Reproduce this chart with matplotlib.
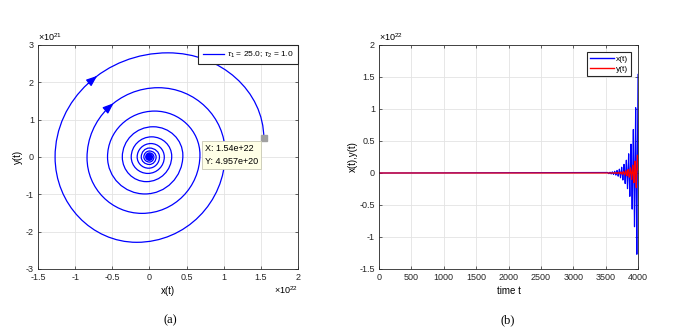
import numpy as np
import matplotlib.pyplot as plt
from matplotlib.path import Path
from matplotlib.patches import PathPatch

plt.rcParams['font.family'] = ['Liberation Sans', 'DejaVu Sans']
plt.rcParams['mathtext.fontset'] = 'custom'
plt.rcParams['mathtext.rm'] = 'Liberation Sans'
plt.rcParams['mathtext.it'] = 'Liberation Sans:italic'

# turning points of the trajectory, oldest first (left/right = x extremes, top/bottom = y extremes)
# x in units of 1e22, y in units of 1e21
turn_t = [3532, 3541, 3550, 3559, 3568, 3577, 3586, 3595, 3604, 3613,
          3622, 3631, 3640, 3649, 3658, 3667, 3676, 3685, 3694, 3703,
          3712, 3721, 3730, 3739, 3748, 3757, 3766, 3775, 3784, 3793,
          3802, 3811, 3820, 3829, 3838, 3847, 3856, 3865, 3874, 3883,
          3892, 3901, 3910, 3919, 3928, 3937, 3946, 3955, 3964, 3973,
          3982, 3991, 4000]
turn_x = [0.008, 0.0, -0.01, 0.0, 0.012, 0.0, -0.015, 0.0, 0.018, 0.0,
          -0.022, 0.0, 0.027, 0.0, -0.033, 0.0, 0.04, 0.0, -0.05, 0.0,
          0.06, 0.0, -0.075, 0.0, 0.09, 0.0, -0.11, 0.0, 0.135, -0.01,
          -0.165, 0.02, 0.20, -0.02, -0.245, 0.03, 0.30, -0.04, -0.365, 0.05,
          0.45, -0.06, -0.564, 0.07, 0.68, -0.10, -0.84, 0.12, 1.02, -0.17,
          -1.27, 0.25, 1.54]
turn_y = [0.0, -0.018, 0.0, 0.022, 0.0, -0.027, 0.0, 0.033, 0.0, -0.04,
          0.0, 0.05, 0.0, -0.06, 0.0, 0.075, 0.0, -0.09, 0.0, 0.11,
          0.0, -0.135, 0.0, 0.16, 0.0, -0.20, 0.0, 0.24, 0.0, -0.30,
          0.0, 0.36, 0.0, -0.44, 0.0, 0.54, 0.02, -0.66, 0.0, 0.81,
          0.04, -0.99, 0.0, 1.23, 0.06, -1.51, -0.02, 1.856, 0.10, -2.285,
          0.0, 2.79, 0.4957]
tau1 = 25.0
tau2 = 1.0

blue = '#0000ff'
red = '#ff0000'
K = 0.5523


def spiral_path(xs, ys):
    verts = [(xs[0], ys[0])]
    codes = [Path.MOVETO]
    ctrl = []
    for i in range(len(xs) - 1):
        px, py, qx, qy = xs[i], ys[i], xs[i + 1], ys[i + 1]
        if i % 2 == 0:  # from x-extreme to y-extreme
            c1 = (px, py + K * (qy - py))
            c2 = (qx + K * (px - qx), qy)
        else:
            c1 = (px + K * (qx - px), py)
            c2 = (qx, qy + K * (py - qy))
        verts += [c1, c2, (qx, qy)]
        codes += [Path.CURVE4] * 3
        ctrl.append(((px, py), c1, c2, (qx, qy)))
    return Path(verts, codes), ctrl


def bez(seg, t):
    p0, c1, c2, p3 = [np.array(p) for p in seg]
    return (1 - t) ** 3 * p0 + 3 * (1 - t) ** 2 * t * c1 + 3 * (1 - t) * t ** 2 * c2 + t ** 3 * p3


def style(ax):
    ax.grid(True, color='#e3e3e3', lw=0.6)
    ax.set_axisbelow(True)
    ax.tick_params(direction='in', top=True, right=True, length=2.5, width=0.5,
                   labelsize=6.5, colors='#262626', pad=3)
    for s in ax.spines.values():
        s.set_color('#262626')
        s.set_linewidth(0.6)


fig = plt.figure(figsize=(6.75, 3.34), dpi=100)
ax1 = fig.add_axes([38 / 675, 65 / 334, 260 / 675, 224 / 334])
ax2 = fig.add_axes([379 / 675, 65 / 334, 259 / 675, 224 / 334])

# (a) phase portrait
path, segs = spiral_path(turn_x, turn_y)
ax1.add_patch(PathPatch(path, fill=False, edgecolor=blue, lw=0.9))
ax1.plot([], [], color=blue, lw=0.9,
         label=r'$\tau_1$ = %.1f; $\tau_2$ = %.1f' % (tau1, tau2))
n = len(segs)
for seg in [segs[n - 2], segs[n - 6]]:
    a = bez(seg, 0.50)
    b = bez(seg, 0.57)
    ax1.annotate('', xy=b, xytext=a,
                 arrowprops=dict(arrowstyle='-|>,head_length=0.65,head_width=0.25',
                                 color=blue, lw=0.9, shrinkA=0, shrinkB=0))
ex, ey = turn_x[-1], turn_y[-1]
ax1.plot([ex], [ey], 's', color='#a0a0a0', ms=4.5, mec='#a0a0a0')
ax1.annotate('X: %s\nY: %s' % (format(ex * 1e22, '.4g'), format(ey * 1e21, '.4g')),
             xy=(ex, ey), xytext=(-4, -4), textcoords='offset points',
             ha='right', va='top', multialignment='left', fontsize=6.5, linespacing=1.5,
             bbox=dict(boxstyle='square,pad=0.35', fc='#ffffe6', ec='#c8c8b4', lw=0.6))
ax1.set_xlim(-1.5, 2)
ax1.set_ylim(-3, 3)
ax1.set_xticks(np.arange(-1.5, 2.01, 0.5))
ax1.set_xticklabels(['-1.5', '-1', '-0.5', '0', '0.5', '1', '1.5', '2'])
ax1.set_yticks(np.arange(-3, 3.01, 1))
ax1.set_yticklabels(['-3', '-2', '-1', '0', '1', '2', '3'])
style(ax1)
ax1.set_xlabel('x(t)', fontsize=7, labelpad=3)
ax1.set_ylabel('y(t)', fontsize=7, labelpad=2)
ax1.text(0.0, 1.01, r'$\times10^{21}$', transform=ax1.transAxes, fontsize=6.5, va='bottom')
ax1.text(1.0, -0.07, r'$\times10^{22}$', transform=ax1.transAxes, fontsize=6.5, ha='right', va='top')
leg = ax1.legend(loc='upper right', fontsize=6, handlelength=2.6, borderaxespad=0,
                 fancybox=False, framealpha=1, borderpad=0.55, handletextpad=0.3)
leg.get_frame().set_edgecolor('#262626')
leg.get_frame().set_linewidth(0.8)

# (b) time series
t_series = [0] + turn_t
x_series = [0] + turn_x
y_series = [0] + [v / 10 for v in turn_y]
ax2.plot(t_series, x_series, color=blue, lw=0.85, label='x(t)')
ax2.plot(t_series, y_series, color=red, lw=0.85, label='y(t)')
ax2.set_xlim(0, 4000)
ax2.set_ylim(-1.5, 2)
ax2.set_xticks(np.arange(0, 4001, 500))
ax2.set_yticks(np.arange(-1.5, 2.01, 0.5))
ax2.set_yticklabels(['-1.5', '-1', '-0.5', '0', '0.5', '1', '1.5', '2'])
style(ax2)
ax2.set_xlabel('time t', fontsize=7, labelpad=3)
ax2.set_ylabel('x(t),y(t)', fontsize=7, labelpad=1)
ax2.text(0.0, 1.01, r'$\times10^{22}$', transform=ax2.transAxes, fontsize=6.5, va='bottom')
leg2 = ax2.legend(loc='upper right', fontsize=6, handlelength=2.9, borderaxespad=0.8,
                  fancybox=False, framealpha=1, borderpad=0.4, labelspacing=0.25,
                  handletextpad=0.2)
for line in leg2.get_lines():
    line.set_linewidth(1.0)
leg2.get_frame().set_edgecolor('#262626')
leg2.get_frame().set_linewidth(0.8)

fig.text(170 / 675, 1 - 320 / 334, '(a)', fontsize=9, family='Liberation Serif', ha='center', va='center')
fig.text(508 / 675, 1 - 320 / 334, '(b)', fontsize=9, family='Liberation Serif', ha='center', va='center')

fig.savefig('out.png', dpi=100)
